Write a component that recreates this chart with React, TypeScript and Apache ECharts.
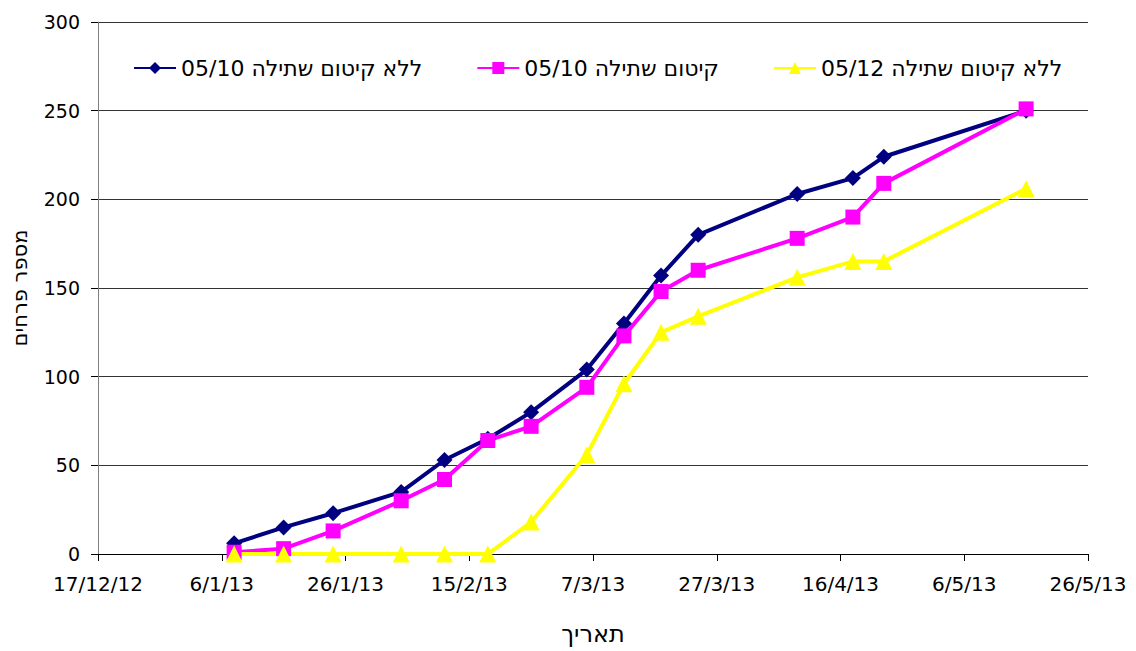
import React, { useEffect, useRef } from "react";
import * as echarts from "echarts";

const FONT = "DejaVu Sans";
const BASE_DATE = "2012-12-17";
const END_DATE = "2013-05-26";
const TICK_DAYS = 20;

const dates = [
  "2013-01-08", "2013-01-16", "2013-01-24", "2013-02-04", "2013-02-11",
  "2013-02-18", "2013-02-25", "2013-03-06", "2013-03-12", "2013-03-18",
  "2013-03-24", "2013-04-09", "2013-04-18", "2013-04-23", "2013-05-16",
];

const seriesNames = [
  "ללא קיטום שתילה 05/10",
  "קיטום שתילה 05/10",
  "ללא קיטום שתילה 05/12",
];

const noPrune0510 = [6, 15, 23, 35, 53, 65, 80, 104, 130, 157, 180, 203, 212, 224, 250];
const prune0510 = [1, 3, 13, 30, 42, 64, 72, 94, 123, 148, 160, 178, 190, 209, 251];
const noPrune0512 = [0, 0, 0, 0, 0, 0, 18, 56, 96, 125, 134, 156, 165, 165, 206];

const yTicks = { min: 0, max: 300, interval: 50 };

const DAY = 86400000;
function toUTC(s: string) {
  const [y, m, d] = s.split("-").map(Number);
  return Date.UTC(y, m - 1, d);
}
const base = toUTC(BASE_DATE);
const dayIndex = (s: string) => Math.round((toUTC(s) - base) / DAY);
const maxDay = dayIndex(END_DATE);

function fmt(v: number) {
  const d = new Date(base + v * DAY);
  return `${d.getUTCDate()}/${d.getUTCMonth() + 1}/${String(d.getUTCFullYear()).slice(2)}`;
}

export default function App() {
  const ref = useRef<HTMLDivElement>(null);
  useEffect(() => {
    document.body.style.margin = "0";
    const chart = echarts.init(ref.current!, null, { renderer: "svg" });
    const mk = (vals: number[]) => dates.map((d, i) => [dayIndex(d), vals[i]]);
    chart.setOption({
      animation: false,
      textStyle: { fontFamily: FONT, color: "#000" },
      grid: { left: 98, right: 48, top: 22, bottom: 97 },
      legend: {
        left: 128,
        top: 52,
        itemGap: 54,
        itemWidth: 42,
        itemHeight: 15,
        textStyle: { fontFamily: FONT, fontSize: 22, color: "#000" },
        data: seriesNames,
      },
      xAxis: {
        type: "value",
        min: 0,
        max: maxDay,
        interval: TICK_DAYS,
        name: "תאריך",
        nameLocation: "middle",
        nameGap: 68,
        nameTextStyle: { fontFamily: FONT, fontSize: 24, color: "#000" },
        axisLine: { show: true, lineStyle: { color: "#000", width: 1 } },
        axisTick: { show: true, inside: false, length: 7, lineStyle: { color: "#000" } },
        axisLabel: { formatter: fmt, fontFamily: FONT, fontSize: 20, color: "#000", margin: 20 },
        splitLine: { show: false },
      },
      yAxis: {
        type: "value",
        min: yTicks.min,
        max: yTicks.max,
        interval: yTicks.interval,
        name: "מספר פרחים",
        nameLocation: "middle",
        nameGap: 68,
        nameRotate: 90,
        nameTextStyle: { fontFamily: FONT, fontSize: 21, color: "#000" },
        axisLine: { show: true, lineStyle: { color: "#808080", width: 1 } },
        axisTick: { show: true, inside: false, length: 7, lineStyle: { color: "#000" } },
        axisLabel: { fontFamily: FONT, fontSize: 19, color: "#000", margin: 18 },
        splitLine: { show: true, lineStyle: { color: "#333", width: 1 } },
      },
      series: [
        {
          type: "line",
          name: seriesNames[0],
          symbol: "diamond",
          symbolSize: 16,
          color: "#000080",
          itemStyle: { color: "#000080" },
          lineStyle: { width: 4, color: "#000080" },
          data: mk(noPrune0510),
        },
        {
          type: "line",
          name: seriesNames[1],
          symbol: "rect",
          symbolSize: 15,
          color: "#FF00FF",
          itemStyle: { color: "#FF00FF" },
          lineStyle: { width: 4, color: "#FF00FF" },
          data: mk(prune0510),
        },
        {
          type: "line",
          name: seriesNames[2],
          symbol: "triangle",
          symbolSize: 17,
          color: "#FFFF00",
          itemStyle: { color: "#FFFF00" },
          lineStyle: { width: 4, color: "#FFFF00" },
          data: mk(noPrune0512),
        },
      ],
    });
    return () => chart.dispose();
  }, []);
  return <div ref={ref} style={{ width: 1136, height: 651 }} />;
}
